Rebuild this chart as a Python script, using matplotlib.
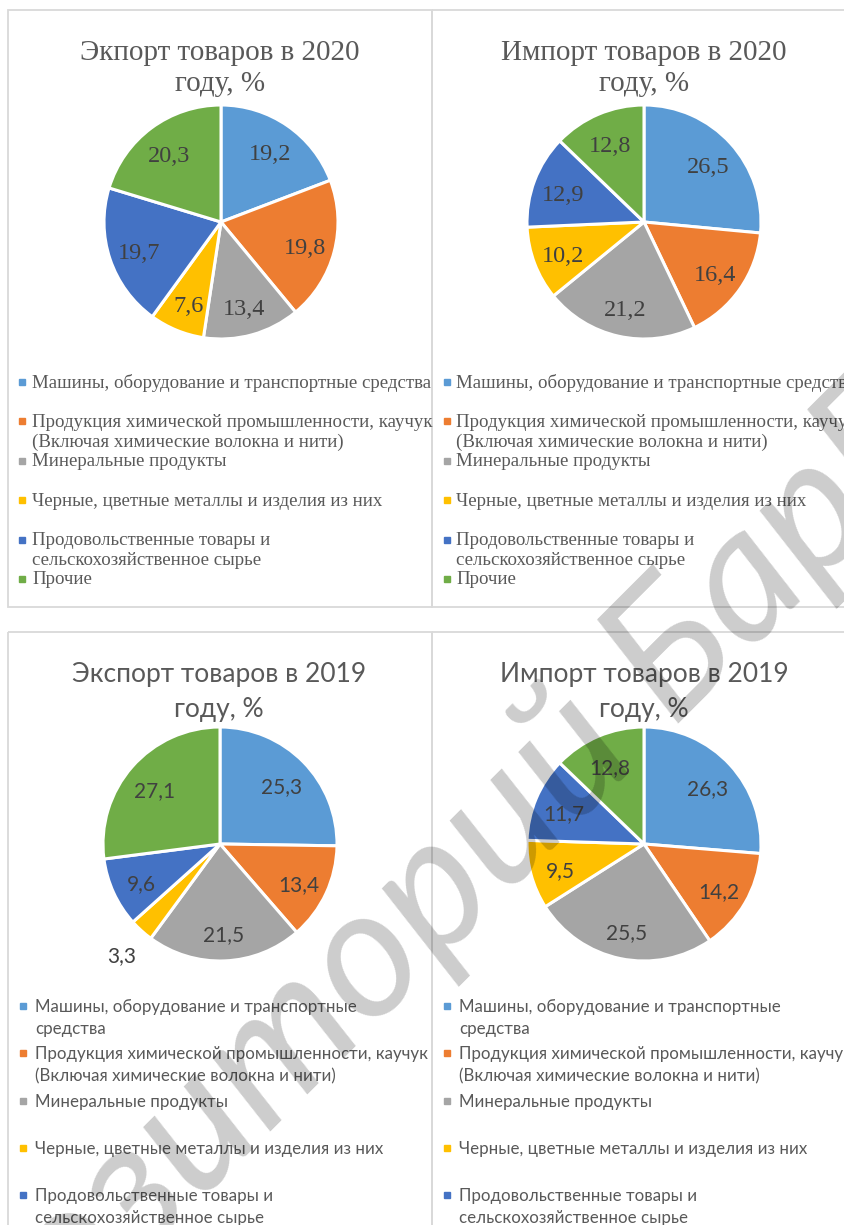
import matplotlib
matplotlib.use("Agg")
import matplotlib.pyplot as plt
import numpy as np
from matplotlib.patches import Rectangle

W, H, DPI = 845, 1225, 100

# ---------------- data ----------------
categories = [
    "Машины, оборудование и транспортные средства",
    "Продукция химической промышленности, каучук (Включая химические волокна и нити)",
    "Минеральные продукты",
    "Черные, цветные металлы и изделия из них",
    "Продовольственные товары и сельскохозяйственное сырье",
    "Прочие",
]
legend_2020 = [
    "Машины, оборудование и транспортные средства",
    "Продукция химической промышленности, каучук\n(Включая химические волокна и нити)",
    "Минеральные продукты",
    "Черные, цветные металлы и изделия из них",
    "Продовольственные товары и\nсельскохозяйственное сырье",
    "Прочие",
]
legend_2019 = [
    "Машины, оборудование и транспортные\nсредства",
    "Продукция химической промышленности, каучук\n(Включая химические волокна и нити)",
    "Минеральные продукты",
    "Черные, цветные металлы и изделия из них",
    "Продовольственные товары и\nсельскохозяйственное сырье",
    "Прочие",
]
colors = ["#5B9BD5", "#ED7D31", "#A5A5A5", "#FFC000", "#4472C4", "#70AD47"]

export_2020 = [19.2, 19.8, 13.4, 7.6, 19.7, 20.3]
import_2020 = [26.5, 16.4, 21.2, 10.2, 12.9, 12.8]
export_2019 = [25.3, 13.4, 21.5, 3.3, 9.6, 27.1]
import_2019 = [26.3, 14.2, 25.5, 9.5, 11.7, 12.8]

titles = [
    ["Экпорт товаров в 2020", "году, %"],
    ["Импорт товаров в 2020", "году, %"],
    ["Экспорт товаров в 2019", "году, %"],
    ["Импорт товаров в 2019", "году, %"],
]
watermark = "Репозиторий БарГУ"

SERIF = "Liberation Serif"
SANS = "Lato"

panels = [
    dict(vals=export_2020, title=titles[0], leg=legend_2020, font=SERIF,
         cx=221, cy=222, r=117, tx=220, ty=(60, 91), tfs=21,
         lx=22, ltx=32, ly0=383, lstep=39.4, lline=20, lfs=13.6, dfs=17.5),
    dict(vals=import_2020, title=titles[1], leg=legend_2020, font=SERIF,
         cx=644, cy=222, r=117, tx=644, ty=(60, 91), tfs=21,
         lx=447, ltx=456, ly0=383, lstep=39.4, lline=20, lfs=13.6, dfs=17.5),
    dict(vals=export_2019, title=titles[2], leg=legend_2019, font=SANS,
         cx=220, cy=844, r=117, tx=219, ty=(682, 717), tfs=19,
         lx=23, ltx=35, ly0=1007, lstep=47.3, lline=22, lfs=12.2, dfs=15),
    dict(vals=import_2019, title=titles[3], leg=legend_2019, font=SANS,
         cx=644, cy=844, r=117, tx=644, ty=(682, 717), tfs=19,
         lx=447, ltx=459, ly0=1007, lstep=47.3, lline=22, lfs=12.2, dfs=15),
]

TITLE_C = "#595959"
LEG_C = "#595959"
LAB_C = "#404040"
BORDER_C = "#D9D9D9"

fig = plt.figure(figsize=(W / DPI, H / DPI), dpi=DPI)
fig.patch.set_facecolor("white")

bg = fig.add_axes([0, 0, 1, 1], zorder=0)
bg.set_xlim(0, W)
bg.set_ylim(H, 0)
bg.axis("off")

# panel frames
for (x0, y0, x1, y1) in [(8, 10, 432, 607), (432, 10, 860, 607),
                         (8, 632, 432, 1240), (432, 632, 860, 1240)]:
    bg.add_patch(Rectangle((x0, y0), x1 - x0, y1 - y0, fill=False,
                           edgecolor=BORDER_C, linewidth=1.3))

for p in panels:
    # title
    for k, line in enumerate(p["title"]):
        bg.text(p["tx"], p["ty"][k], line, ha="center", va="baseline",
                fontsize=p["tfs"], color=TITLE_C, family=p["font"])

    # pie
    cx, cy, r = p["cx"], p["cy"], p["r"]
    ax = fig.add_axes([(cx - r) / W, 1 - (cy + r) / H, 2 * r / W, 2 * r / H], zorder=2)
    wedges, _ = ax.pie(p["vals"], colors=colors, startangle=90, counterclock=False,
                       radius=1, wedgeprops=dict(edgecolor="white", linewidth=2.2))
    for w in wedges:
        w.set_clip_on(False)
    ax.set_aspect("auto")
    ax.set_xlim(-1, 1)
    ax.set_ylim(-1, 1)
    ax.axis("off")
    for w, v in zip(wedges, p["vals"]):
        ang = np.deg2rad((w.theta1 + w.theta2) / 2)
        frac = (w.theta2 - w.theta1) / 360.0
        d = 0.74 if frac > 0.05 else 1.25
        ax.text(d * np.cos(ang), d * np.sin(ang) - 0.035, f"{v:.1f}".replace(".", ","),
                ha="center", va="center", fontsize=p["dfs"], color=LAB_C,
                family=p["font"], clip_on=False)

    # legend
    for i, (lab, c) in enumerate(zip(p["leg"], colors)):
        y = p["ly0"] + i * p["lstep"]
        bg.plot([p["lx"]], [y - 1], marker="s", markersize=4.2, color=c,
                linestyle="none")
        for k, line in enumerate(lab.split("\n")):
            bg.text(p["ltx"], y + k * p["lline"], line, ha="left",
                    va="center", fontsize=p["lfs"], color=LEG_C,
                    family=p["font"], clip_on=True)

# watermark
fg = fig.add_axes([0, 0, 1, 1], zorder=20)
fg.set_xlim(0, W)
fg.set_ylim(H, 0)
fg.axis("off")
fg.patch.set_alpha(0)
fg.text(411, 918, watermark, rotation=45, rotation_mode="anchor",
        ha="center", va="center", fontsize=132, fontstyle="italic",
        family="Lato", color="black", alpha=0.2)

fig.savefig("out.png", dpi=DPI, facecolor="white")
